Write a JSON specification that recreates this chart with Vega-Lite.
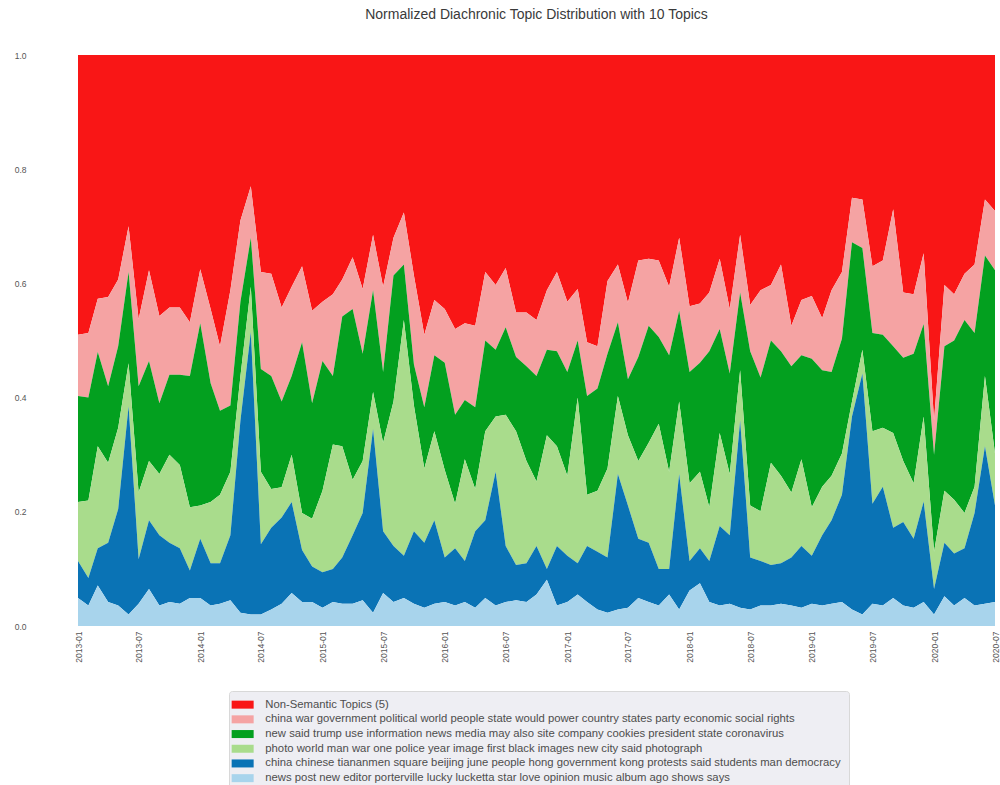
{
  "$schema": "https://vega.github.io/schema/vega-lite/v6.json",
  "width": 917,
  "height": 571,
  "autosize": {"type": "none"},
  "padding": {"left": 78, "top": 55, "right": 5, "bottom": 159},
  "background": "white",
  "title": {"text": "Normalized Diachronic Topic Distribution with 10 Topics", "anchor": "middle", "offset": 29, "fontSize": 14, "font": "Liberation Sans", "fontWeight": "normal", "color": "#3a3a3a"},
  "data": {"values": [
    {"d":"2013-01-01","a":0.490,"b":0.107,"c":0.186,"dd":0.103,"e":0.065,"f":0.049},
    {"d":"2013-02-01","a":0.487,"b":0.113,"c":0.180,"dd":0.136,"e":0.048,"f":0.036},
    {"d":"2013-03-01","a":0.427,"b":0.093,"c":0.165,"dd":0.179,"e":0.065,"f":0.071},
    {"d":"2013-04-01","a":0.424,"b":0.156,"c":0.134,"dd":0.140,"e":0.104,"f":0.042},
    {"d":"2013-05-01","a":0.393,"b":0.117,"c":0.143,"dd":0.142,"e":0.169,"f":0.036},
    {"d":"2013-06-01","a":0.300,"b":0.080,"c":0.160,"dd":0.075,"e":0.365,"f":0.020},
    {"d":"2013-07-01","a":0.463,"b":0.117,"c":0.186,"dd":0.117,"e":0.078,"f":0.039},
    {"d":"2013-08-01","a":0.377,"b":0.159,"c":0.175,"dd":0.104,"e":0.120,"f":0.065},
    {"d":"2013-09-01","a":0.457,"b":0.153,"c":0.124,"dd":0.107,"e":0.123,"f":0.036},
    {"d":"2013-10-01","a":0.442,"b":0.118,"c":0.140,"dd":0.154,"e":0.104,"f":0.042},
    {"d":"2013-11-01","a":0.442,"b":0.118,"c":0.158,"dd":0.146,"e":0.097,"f":0.039},
    {"d":"2013-12-01","a":0.468,"b":0.094,"c":0.230,"dd":0.111,"e":0.048,"f":0.049},
    {"d":"2014-01-01","a":0.375,"b":0.095,"c":0.319,"dd":0.058,"e":0.104,"f":0.049},
    {"d":"2014-02-01","a":0.445,"b":0.130,"c":0.208,"dd":0.107,"e":0.074,"f":0.036},
    {"d":"2014-03-01","a":0.510,"b":0.113,"c":0.147,"dd":0.120,"e":0.071,"f":0.039},
    {"d":"2014-04-01","a":0.412,"b":0.202,"c":0.116,"dd":0.111,"e":0.114,"f":0.045},
    {"d":"2014-05-01","a":0.290,"b":0.142,"c":0.130,"dd":0.078,"e":0.337,"f":0.023},
    {"d":"2014-06-01","a":0.230,"b":0.090,"c":0.086,"dd":0.079,"e":0.495,"f":0.020},
    {"d":"2014-07-01","a":0.380,"b":0.170,"c":0.180,"dd":0.127,"e":0.123,"f":0.020},
    {"d":"2014-08-01","a":0.383,"b":0.179,"c":0.198,"dd":0.068,"e":0.143,"f":0.029},
    {"d":"2014-09-01","a":0.442,"b":0.165,"c":0.150,"dd":0.053,"e":0.151,"f":0.039},
    {"d":"2014-10-01","a":0.406,"b":0.156,"c":0.138,"dd":0.083,"e":0.159,"f":0.058},
    {"d":"2014-11-01","a":0.370,"b":0.133,"c":0.299,"dd":0.065,"e":0.091,"f":0.042},
    {"d":"2014-12-01","a":0.448,"b":0.162,"c":0.202,"dd":0.084,"e":0.062,"f":0.042},
    {"d":"2015-01-01","a":0.432,"b":0.104,"c":0.227,"dd":0.143,"e":0.062,"f":0.032},
    {"d":"2015-02-01","a":0.419,"b":0.143,"c":0.120,"dd":0.218,"e":0.058,"f":0.042},
    {"d":"2015-03-01","a":0.393,"b":0.065,"c":0.227,"dd":0.195,"e":0.081,"f":0.039},
    {"d":"2015-04-01","a":0.354,"b":0.091,"c":0.299,"dd":0.097,"e":0.120,"f":0.039},
    {"d":"2015-05-01","a":0.410,"b":0.113,"c":0.188,"dd":0.091,"e":0.153,"f":0.045},
    {"d":"2015-06-01","a":0.315,"b":0.097,"c":0.178,"dd":0.065,"e":0.322,"f":0.023},
    {"d":"2015-07-01","a":0.406,"b":0.149,"c":0.124,"dd":0.155,"e":0.108,"f":0.058},
    {"d":"2015-08-01","a":0.320,"b":0.066,"c":0.221,"dd":0.253,"e":0.098,"f":0.042},
    {"d":"2015-09-01","a":0.276,"b":0.091,"c":0.097,"dd":0.413,"e":0.074,"f":0.049},
    {"d":"2015-10-01","a":0.386,"b":0.156,"c":0.072,"dd":0.220,"e":0.127,"f":0.039},
    {"d":"2015-11-01","a":0.490,"b":0.127,"c":0.107,"dd":0.130,"e":0.114,"f":0.032},
    {"d":"2015-12-01","a":0.429,"b":0.097,"c":0.133,"dd":0.156,"e":0.146,"f":0.039},
    {"d":"2016-01-01","a":0.445,"b":0.094,"c":0.188,"dd":0.153,"e":0.078,"f":0.042},
    {"d":"2016-02-01","a":0.480,"b":0.150,"c":0.156,"dd":0.078,"e":0.100,"f":0.036},
    {"d":"2016-03-01","a":0.470,"b":0.134,"c":0.104,"dd":0.178,"e":0.072,"f":0.042},
    {"d":"2016-04-01","a":0.474,"b":0.143,"c":0.143,"dd":0.074,"e":0.134,"f":0.032},
    {"d":"2016-05-01","a":0.380,"b":0.120,"c":0.159,"dd":0.156,"e":0.136,"f":0.049},
    {"d":"2016-06-01","a":0.403,"b":0.113,"c":0.117,"dd":0.097,"e":0.234,"f":0.036},
    {"d":"2016-07-01","a":0.373,"b":0.104,"c":0.153,"dd":0.230,"e":0.098,"f":0.042},
    {"d":"2016-08-01","a":0.451,"b":0.078,"c":0.130,"dd":0.234,"e":0.062,"f":0.045},
    {"d":"2016-09-01","a":0.451,"b":0.094,"c":0.166,"dd":0.179,"e":0.068,"f":0.042},
    {"d":"2016-10-01","a":0.464,"b":0.098,"c":0.185,"dd":0.113,"e":0.085,"f":0.055},
    {"d":"2016-11-01","a":0.412,"b":0.104,"c":0.150,"dd":0.234,"e":0.019,"f":0.081},
    {"d":"2016-12-01","a":0.380,"b":0.139,"c":0.166,"dd":0.175,"e":0.104,"f":0.036},
    {"d":"2017-01-01","a":0.432,"b":0.123,"c":0.182,"dd":0.140,"e":0.081,"f":0.042},
    {"d":"2017-02-01","a":0.410,"b":0.090,"c":0.100,"dd":0.290,"e":0.055,"f":0.055},
    {"d":"2017-03-01","a":0.503,"b":0.094,"c":0.173,"dd":0.090,"e":0.098,"f":0.042},
    {"d":"2017-04-01","a":0.510,"b":0.074,"c":0.179,"dd":0.107,"e":0.101,"f":0.029},
    {"d":"2017-05-01","a":0.396,"b":0.127,"c":0.201,"dd":0.156,"e":0.097,"f":0.023},
    {"d":"2017-06-01","a":0.367,"b":0.101,"c":0.129,"dd":0.137,"e":0.237,"f":0.029},
    {"d":"2017-07-01","a":0.434,"b":0.134,"c":0.098,"dd":0.123,"e":0.179,"f":0.032},
    {"d":"2017-08-01","a":0.360,"b":0.169,"c":0.182,"dd":0.136,"e":0.104,"f":0.049},
    {"d":"2017-09-01","a":0.357,"b":0.117,"c":0.205,"dd":0.175,"e":0.104,"f":0.042},
    {"d":"2017-10-01","a":0.360,"b":0.134,"c":0.152,"dd":0.254,"e":0.064,"f":0.036},
    {"d":"2017-11-01","a":0.406,"b":0.120,"c":0.204,"dd":0.170,"e":0.045,"f":0.055},
    {"d":"2017-12-01","a":0.320,"b":0.128,"c":0.159,"dd":0.127,"e":0.237,"f":0.029},
    {"d":"2018-01-01","a":0.440,"b":0.115,"c":0.195,"dd":0.136,"e":0.052,"f":0.062},
    {"d":"2018-02-01","a":0.435,"b":0.104,"c":0.191,"dd":0.134,"e":0.061,"f":0.075},
    {"d":"2018-03-01","a":0.416,"b":0.103,"c":0.273,"dd":0.094,"e":0.072,"f":0.042},
    {"d":"2018-04-01","a":0.357,"b":0.123,"c":0.182,"dd":0.163,"e":0.139,"f":0.036},
    {"d":"2018-05-01","a":0.445,"b":0.113,"c":0.176,"dd":0.107,"e":0.120,"f":0.039},
    {"d":"2018-06-01","a":0.315,"b":0.101,"c":0.136,"dd":0.088,"e":0.328,"f":0.032},
    {"d":"2018-07-01","a":0.438,"b":0.081,"c":0.270,"dd":0.091,"e":0.091,"f":0.029},
    {"d":"2018-08-01","a":0.412,"b":0.153,"c":0.234,"dd":0.087,"e":0.078,"f":0.036},
    {"d":"2018-09-01","a":0.403,"b":0.097,"c":0.214,"dd":0.179,"e":0.071,"f":0.036},
    {"d":"2018-10-01","a":0.367,"b":0.152,"c":0.218,"dd":0.153,"e":0.071,"f":0.039},
    {"d":"2018-11-01","a":0.474,"b":0.071,"c":0.221,"dd":0.114,"e":0.084,"f":0.036},
    {"d":"2018-12-01","a":0.429,"b":0.097,"c":0.182,"dd":0.152,"e":0.108,"f":0.032},
    {"d":"2019-01-01","a":0.422,"b":0.110,"c":0.260,"dd":0.085,"e":0.084,"f":0.039},
    {"d":"2019-02-01","a":0.461,"b":0.091,"c":0.204,"dd":0.085,"e":0.123,"f":0.036},
    {"d":"2019-03-01","a":0.412,"b":0.143,"c":0.182,"dd":0.078,"e":0.146,"f":0.039},
    {"d":"2019-04-01","a":0.380,"b":0.117,"c":0.201,"dd":0.072,"e":0.188,"f":0.042},
    {"d":"2019-05-01","a":0.250,"b":0.078,"c":0.279,"dd":0.026,"e":0.338,"f":0.029},
    {"d":"2019-06-01","a":0.253,"b":0.085,"c":0.178,"dd":0.042,"e":0.422,"f":0.020},
    {"d":"2019-07-01","a":0.370,"b":0.117,"c":0.172,"dd":0.127,"e":0.175,"f":0.039},
    {"d":"2019-08-01","a":0.360,"b":0.130,"c":0.163,"dd":0.103,"e":0.208,"f":0.036},
    {"d":"2019-09-01","a":0.270,"b":0.240,"c":0.152,"dd":0.166,"e":0.123,"f":0.049},
    {"d":"2019-10-01","a":0.416,"b":0.114,"c":0.181,"dd":0.107,"e":0.146,"f":0.036},
    {"d":"2019-11-01","a":0.419,"b":0.104,"c":0.227,"dd":0.097,"e":0.121,"f":0.032},
    {"d":"2019-12-01","a":0.347,"b":0.124,"c":0.162,"dd":0.149,"e":0.176,"f":0.042},
    {"d":"2020-01-01","a":0.640,"b":0.060,"c":0.170,"dd":0.065,"e":0.045,"f":0.020},
    {"d":"2020-02-01","a":0.403,"b":0.107,"c":0.253,"dd":0.091,"e":0.094,"f":0.052},
    {"d":"2020-03-01","a":0.419,"b":0.081,"c":0.279,"dd":0.094,"e":0.091,"f":0.036},
    {"d":"2020-04-01","a":0.383,"b":0.081,"c":0.338,"dd":0.062,"e":0.087,"f":0.049},
    {"d":"2020-05-01","a":0.367,"b":0.120,"c":0.269,"dd":0.046,"e":0.162,"f":0.036},
    {"d":"2020-06-01","a":0.253,"b":0.098,"c":0.211,"dd":0.123,"e":0.276,"f":0.039},
    {"d":"2020-07-01","a":0.273,"b":0.104,"c":0.321,"dd":0.091,"e":0.169,"f":0.042}
  ]},
  "transform": [{"fold": ["a", "b", "c", "dd", "e", "f"], "as": ["k", "v"]}],
  "mark": {"type": "area", "interpolate": "linear", "opacity": 1, "strokeWidth": 0},
  "encoding": {
    "x": {"field": "d", "type": "temporal", "scale": {"type": "utc", "nice": false},
      "axis": {"title": null, "format": "%Y-%m", "tickCount": {"interval": "month", "step": 6}, "labelAngle": -90, "labelFontSize": 8.5, "labelFont": "Liberation Sans", "labelColor": "#555555", "labelPadding": 5, "domain": false, "ticks": false, "grid": false, "labelOverlap": false, "labelFlush": false}},
    "y": {"field": "v", "type": "quantitative", "stack": "normalize", "scale": {"domain": [0, 1], "nice": false},
      "axis": {"title": null, "values": [0, 0.2, 0.4, 0.6, 0.8, 1.0], "labelExpr": "format(datum.value, '.1f')", "labelFontSize": 8.5, "labelFont": "Liberation Sans", "labelColor": "#555555", "labelPadding": 52, "domain": false, "ticks": false, "grid": false}},
    "order": {"field": "k", "sort": "descending"},
    "color": {"field": "k", "type": "nominal",
      "scale": {"domain": ["a", "b", "c", "dd", "e", "f"], "range": ["#f91616", "#f5a3a3", "#03a01f", "#a9dc8c", "#0a73b5", "#a8d4ec"]},
      "legend": {"orient": "none", "legendX": 151, "legendY": 636, "title": null, "direction": "vertical",
        "symbolType": "M-2.75,-1H2.75V1H-2.75Z", "symbolSize": 64, "symbolStrokeWidth": 0, "symbolOpacity": 1,
        "labelOffset": 17, "labelFontSize": 11.3, "labelFont": "Liberation Sans", "labelColor": "#4d4d4d", "labelLimit": 800,
        "rowPadding": 2.7, "padding": 8, "fillColor": "#eeeef3", "strokeColor": "#d8d8d8", "cornerRadius": 3,
        "labelExpr": "datum.label == 'a' ? 'Non-Semantic Topics (5)' : datum.label == 'b' ? 'china war government political world people state would power country states party economic social rights' : datum.label == 'c' ? 'new said trump use information news media may also site company cookies president state coronavirus' : datum.label == 'dd' ? 'photo world man war one police year image first black images new city said photograph' : datum.label == 'e' ? 'china chinese tiananmen square beijing june people hong government kong protests said students man democracy' : 'news post new editor porterville lucky lucketta star love opinion music album ago shows says'"}}
  },
  "config": {"view": {"stroke": null}}
}
